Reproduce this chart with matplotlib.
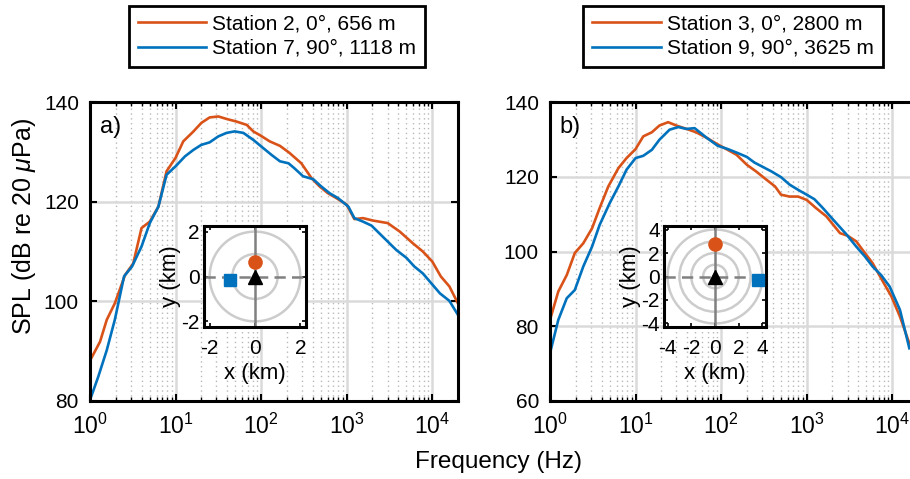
import numpy as np
import matplotlib
matplotlib.use("Agg")
from matplotlib import pyplot as plt
from matplotlib.patches import Circle
from matplotlib.ticker import LogLocator, NullFormatter

plt.rcParams['font.family'] = ['Liberation Sans', 'DejaVu Sans']
plt.rcParams['mathtext.fontset'] = 'custom'
plt.rcParams['mathtext.rm'] = 'Liberation Sans'
plt.rcParams['mathtext.it'] = 'Liberation Sans:italic'
plt.rcParams['axes.unicode_minus'] = False
plt.rcParams['font.size'] = 15

ORANGE = '#D95319'
BLUE = '#0072BD'

# Panel a: station 2 (0 deg, 656 m) and station 7 (90 deg, 1118 m)
f_a2 = [1.0, 1.31, 1.57, 1.95, 2.57, 3.2, 4.0, 5.0, 6.3, 7.85, 10, 12.3, 16.2, 20, 25, 31.6,
        39.4, 51, 68, 81, 100, 126, 166, 214, 295, 389, 479, 603, 759, 1000, 1230, 1549,
        2042, 3020, 4169, 5888, 7762, 10000, 12590, 15850, 19950]
spl_a2 = [88.1, 91.9, 96.3, 99.6, 105.3, 107.6, 114.7, 116.0, 119.0, 126.1, 128.8, 132.1,
          134.1, 135.8, 136.9, 137.1, 136.6, 136.1, 135.4, 134.1, 133.2, 132.1, 131.2, 129.8,
          127.7, 124.7, 123.1, 121.7, 120.7, 119.4, 116.5, 116.7, 116.2, 115.7, 114.0, 111.7,
          110.0, 108.0, 105.0, 103.0, 99.6]
f_a7 = [1.0, 1.25, 1.57, 1.95, 2.5, 3.1, 4.0, 5.0, 6.3, 7.85, 10, 12.9, 16.2, 20, 25, 31.6,
        39.4, 49, 62, 81, 105, 132, 166, 209, 245, 309, 407, 501, 631, 794, 1047, 1230,
        1549, 1950, 2630, 3802, 5012, 6166, 7762, 9772, 12300, 15850, 19950]
spl_a7 = [80.2, 84.9, 90.2, 96.3, 105.0, 107.0, 111.0, 115.7, 119.0, 125.4, 127.1, 129.1,
          130.4, 131.4, 131.9, 133.1, 133.8, 134.1, 133.8, 132.4, 130.8, 129.4, 128.1, 127.7,
          126.7, 125.1, 124.5, 123.1, 121.7, 120.7, 119.0, 116.7, 116.0, 115.2, 113.0, 110.3,
          108.7, 107.0, 105.6, 103.6, 101.6, 100.1, 97.3]

# Panel b: station 3 (0 deg, 2800 m) and station 9 (90 deg, 3625 m)
f_b3 = [1.0, 1.25, 1.57, 1.95, 2.45, 3.1, 3.8, 4.8, 6.3, 7.85, 10, 12.3, 15.5, 19, 24, 30,
        39.4, 51, 68, 89, 115, 151, 200, 257, 339, 427, 501, 631, 794, 1000, 1288, 1698,
        2455, 3020, 3802, 4786, 5888, 7762, 9772, 12300, 15850]
spl_b3 = [81.7, 89.3, 93.7, 99.6, 102.2, 106.2, 111.6, 117.4, 122.3, 125.0, 127.4, 130.8,
          131.9, 133.7, 134.6, 133.7, 132.8, 131.9, 130.4, 128.8, 127.4, 125.9, 123.2, 121.4,
          119.2, 117.4, 115.2, 114.7, 114.7, 113.8, 111.6, 109.4, 104.9, 104.2, 102.7, 99.6,
          96.9, 92.0, 88.0, 82.6, 75.4]
f_b9 = [1.0, 1.25, 1.57, 1.95, 2.45, 3.1, 3.8, 5.0, 6.3, 7.85, 10, 12.3, 15.5, 19, 25, 31.6,
        39.4, 49, 68, 91, 120, 158, 200, 245, 309, 389, 501, 631, 794, 1000, 1230, 1549,
        2042, 2884, 3802, 4786, 5888, 7413, 9333, 12300, 15850]
spl_b9 = [72.8, 81.7, 87.5, 89.7, 96.0, 101.3, 107.1, 113.0, 117.4, 121.9, 125.0, 125.6,
          127.2, 129.9, 132.6, 133.3, 132.8, 133.0, 130.4, 128.3, 127.4, 126.3, 125.3, 123.8,
          122.6, 121.4, 119.9, 117.9, 116.5, 115.2, 114.0, 111.6, 108.5, 104.7, 101.3, 98.7,
          96.0, 93.7, 90.6, 84.4, 74.1]

labels_a = ['Station 2, 0°, 656 m', 'Station 7, 90°, 1118 m']
labels_b = ['Station 3, 0°, 2800 m', 'Station 9, 90°, 3625 m']

# station positions (km) relative to the source
pos_a = {'north': (0.0, 0.656), 'east': (-1.118, -0.15)}
pos_b = {'north': (0.0, 2.8), 'east': (3.625, -0.33)}
rings_a = [1, 2]
rings_b = [1, 2, 3, 4]
lim_a = 2.25
lim_b = 4.3
ticks_a = [-2, 0, 2]
ticks_b = [-4, -2, 0, 2, 4]

fig = plt.figure(figsize=(9.1, 4.79), dpi=100)


def style_main(ax, ylim, yticks):
    ax.set_xscale('log')
    ax.set_xlim(1, 2e4)
    ax.set_ylim(*ylim)
    ax.set_yticks(yticks)
    ax.xaxis.set_major_locator(LogLocator(base=10, numticks=10))
    ax.xaxis.set_minor_locator(LogLocator(base=10, subs=np.arange(2, 10), numticks=20))
    ax.xaxis.set_minor_formatter(NullFormatter())
    ax.grid(True, which='major', color='#dadada', lw=1.8, ls='-')
    ax.grid(True, which='minor', axis='x', color='#b8b8b8', lw=1.0, ls=(0, (1, 2.5)))
    ax.set_axisbelow(True)
    ax.tick_params(which='both', direction='in', top=True, right=True)
    ax.tick_params(axis='y', labelsize=15, pad=8)
    ax.tick_params(axis='x', labelsize=16.5, pad=9)
    ax.tick_params(which='major', length=5, width=1.5)
    ax.tick_params(which='minor', length=3, width=1.0)
    for s in ax.spines.values():
        s.set_linewidth(2.2)


def draw_map(ax, pos, rings, lim, ticks):
    for r in rings:
        ax.add_patch(Circle((0, 0), r, fill=False, ec='#cccccc', lw=1.8, zorder=1))
    ax.axvline(0, color='#808080', lw=1.8, zorder=2)
    ax.axhline(0, color='#808080', lw=1.8, ls=(0, (4.5, 2.5)), zorder=2)
    ax.plot(*pos['north'], 'o', color=ORANGE, ms=9.5, zorder=3)
    ax.plot(*pos['east'], 's', color=BLUE, ms=8, zorder=3)
    ax.plot(0, 0, '^', color='k', ms=10, zorder=4)
    ax.set_xlim(-lim, lim)
    ax.set_ylim(-lim, lim)
    ax.set_xticks(ticks)
    ax.set_yticks(ticks)
    ax.tick_params(direction='in', top=True, right=True, length=3, width=1.2, labelsize=15)
    ax.tick_params(axis='x', pad=9)
    ax.tick_params(axis='y', pad=3)
    ax.set_xlabel('x (km)', fontsize=16, labelpad=3)
    ax.set_ylabel('y (km)', fontsize=16, labelpad=0)
    for s in ax.spines.values():
        s.set_linewidth(2.2)


# Panel a
ax1 = fig.add_axes([90 / 910, 78 / 479, 368 / 910, 299 / 479])
l1, = ax1.plot(f_a2, spl_a2, color=ORANGE, lw=1.9)
l2, = ax1.plot(f_a7, spl_a7, color=BLUE, lw=1.9)
style_main(ax1, (80, 140), [80, 100, 120, 140])
ax1.text(0.027, 0.915, 'a)', transform=ax1.transAxes, fontsize=17, va='center')

# Panel b
ax2 = fig.add_axes([550 / 910, 78 / 479, 368 / 910, 299 / 479])
l3, = ax2.plot(f_b3, spl_b3, color=ORANGE, lw=1.9)
l4, = ax2.plot(f_b9, spl_b9, color=BLUE, lw=1.9)
style_main(ax2, (60, 140), [60, 80, 100, 120, 140])
ax2.text(0.027, 0.915, 'b)', transform=ax2.transAxes, fontsize=17, va='center')

fig.text(24 / 910, 253 / 479, r'SPL (dB re 20 $\mu$Pa)', rotation=90,
         ha='center', va='center', fontsize=18)
fig.text(498 / 910, 11 / 479, 'Frequency (Hz)', ha='center', va='baseline', fontsize=17.5)

# station maps
in1 = fig.add_axes([204 / 910, 152 / 479, 102 / 910, 101 / 479])
draw_map(in1, pos_a, rings_a, lim_a, ticks_a)
in2 = fig.add_axes([664 / 910, 152 / 479, 102 / 910, 101 / 479])
draw_map(in2, pos_b, rings_b, lim_b, ticks_b)

for handles, labels, cx in [([l1, l2], labels_a, 277), ([l3, l4], labels_b, 733)]:
    leg = fig.legend(handles, labels, loc='upper center', bbox_to_anchor=(cx / 910, 1 - 6 / 479),
                     fontsize=15, handlelength=3.3, handletextpad=0.3, labelspacing=0.25,
                     borderpad=0.42, borderaxespad=0, fancybox=False, framealpha=1,
                     edgecolor='k')
    leg.get_frame().set_linewidth(2)

plt.savefig('out.png', dpi=100)
